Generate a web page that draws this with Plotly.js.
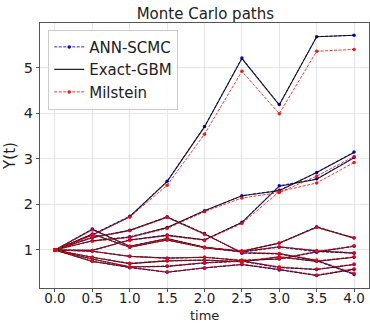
<!DOCTYPE html>
<html><head><meta charset="utf-8">
<script src="https://cdn.plot.ly/plotly-3.0.1.min.js"></script>
<style>html,body{margin:0;padding:0;background:#fff}#chart{width:370px;height:324px}</style>
</head><body><div id="chart"></div>
<script>
const times = [0, 0.5, 1.0, 1.5, 2.0, 2.5, 3.0, 3.5, 4.0];

// Exact-GBM paths
const exactPaths = [
  [1, 1.33, 1.73, 2.50, 3.70, 5.20, 4.18, 5.68, 5.71],
  [1, 1.20, 1.28, 1.49, 1.86, 2.19, 2.30, 2.70, 3.14],
  [1, 0.99, 1.22, 1.32, 1.22, 1.60, 2.40, 2.55, 3.02],
  [1, 1.27, 1.43, 1.72, 1.35, 0.94, 0.92, 0.77, 0.47],
  [1, 1.45, 1.08, 1.25, 1.06, 0.97, 1.15, 1.50, 1.26],
  [1, 1.35, 1.06, 1.22, 1.05, 0.96, 1.07, 0.98, 0.93],
  [1, 0.97, 0.86, 0.82, 0.84, 0.77, 0.80, 0.96, 1.08],
  [1, 0.84, 0.70, 0.76, 0.78, 0.74, 0.85, 0.75, 0.84],
  [1, 0.80, 0.63, 0.64, 0.72, 0.76, 0.62, 0.57, 0.68],
  [1, 0.75, 0.62, 0.51, 0.61, 0.68, 0.57, 0.44, 0.58]
];

// ANN-SCMC paths
const annPaths = [
  [1, 1.34, 1.74, 2.51, 3.71, 5.21, 4.19, 5.68, 5.71],
  [1, 1.20, 1.29, 1.49, 1.86, 2.19, 2.31, 2.70, 3.15],
  [1, 0.99, 1.22, 1.33, 1.22, 1.61, 2.41, 2.56, 3.03],
  [1, 1.28, 1.43, 1.73, 1.36, 0.93, 0.91, 0.76, 0.46],
  [1, 1.46, 1.08, 1.25, 1.06, 0.97, 1.15, 1.51, 1.26],
  [1, 1.35, 1.06, 1.22, 1.05, 0.95, 1.06, 0.96, 0.93],
  [1, 0.97, 0.86, 0.82, 0.84, 0.77, 0.80, 0.95, 1.08],
  [1, 0.84, 0.70, 0.76, 0.77, 0.74, 0.84, 0.75, 0.84],
  [1, 0.80, 0.62, 0.64, 0.71, 0.75, 0.61, 0.57, 0.68],
  [1, 0.75, 0.61, 0.51, 0.60, 0.68, 0.56, 0.44, 0.57]
];

// Milstein paths
const milPaths = [
  [1, 1.32, 1.72, 2.42, 3.54, 4.92, 3.99, 5.36, 5.40],
  [1, 1.19, 1.27, 1.47, 1.84, 2.14, 2.26, 2.62, 3.05],
  [1, 0.99, 1.21, 1.31, 1.21, 1.58, 2.28, 2.47, 2.92],
  [1, 1.27, 1.42, 1.71, 1.34, 0.95, 0.92, 0.78, 0.49],
  [1, 1.44, 1.08, 1.24, 1.06, 0.98, 1.15, 1.49, 1.27],
  [1, 1.34, 1.06, 1.22, 1.05, 0.97, 1.07, 0.99, 0.94],
  [1, 0.97, 0.86, 0.82, 0.84, 0.78, 0.81, 0.97, 1.09],
  [1, 0.84, 0.71, 0.77, 0.78, 0.75, 0.85, 0.76, 0.85],
  [1, 0.80, 0.63, 0.65, 0.72, 0.76, 0.63, 0.58, 0.69],
  [1, 0.75, 0.62, 0.52, 0.61, 0.69, 0.58, 0.45, 0.59]
];

const seriesNames = ['ANN-SCMC', 'Exact-GBM', 'Milstein'];

const traces = [];
annPaths.forEach((p, i) => traces.push({
  x: times, y: p, type: 'scatter', mode: 'lines+markers',
  name: seriesNames[0], legendgroup: 'ann', showlegend: i === 0,
  line: {color: 'rgba(0,0,255,0.85)', width: 1, dash: '3px,1.5px'},
  marker: {color: 'blue', size: 3.5}
}));
exactPaths.forEach((p, i) => traces.push({
  x: times, y: p, type: 'scatter', mode: 'lines',
  name: seriesNames[1], legendgroup: 'exact', showlegend: i === 0,
  line: {color: 'rgba(0,0,0,0.85)', width: 1.1}
}));
milPaths.forEach((p, i) => traces.push({
  x: times, y: p, type: 'scatter', mode: 'lines+markers',
  name: seriesNames[2], legendgroup: 'mil', showlegend: i === 0,
  line: {color: 'rgba(255,0,0,0.8)', width: 1, dash: '3px,1.5px'},
  marker: {color: 'rgba(255,0,0,0.9)', size: 3.5}
}));

const plotH = 324 - 23 - 36;

const layout = {
  width: 370, height: 324,
  margin: {l: 40, r: 1, t: 23, b: 36},
  paper_bgcolor: '#fff', plot_bgcolor: '#fff',
  font: {family: 'DejaVu Sans', color: '#222', size: 14},
  title: {text: 'Monte Carlo paths', font: {size: 15, family: 'DejaVu Sans'}, x: 0.555, xanchor: 'center', y: 0.975, yanchor: 'top'},
  xaxis: {
    range: [-0.2, 4.2], tickvals: times, ticktext: times.map(t => t.toFixed(1)),
    showgrid: true, gridcolor: '#e6e6e6', zeroline: false,
    showline: true, linecolor: '#555', mirror: true, linewidth: 1,
    ticks: 'outside', ticklen: 3, tickcolor: '#555',
    tickfont: {size: 13.5}, ticklabelstandoff: -5,
    title: {text: ''}
  },
  yaxis: {
    range: [0.165, 5.98], tickvals: [1, 2, 3, 4, 5],
    showgrid: true, gridcolor: '#e6e6e6', zeroline: false,
    showline: true, linecolor: '#555', mirror: true, linewidth: 1,
    ticks: 'outside', ticklen: 3, tickcolor: '#555',
    tickfont: {size: 14.5},
    title: {text: 'Y(t)', font: {size: 15}, standoff: 4}
  },
  annotations: [{
    text: 'time', xref: 'paper', yref: 'paper', x: 0.5, y: -36 / plotH,
    xanchor: 'center', yanchor: 'bottom', showarrow: false,
    font: {size: 13}, borderpad: 0
  }],
  legend: {
    x: 0.025, y: 0.975, xanchor: 'left', yanchor: 'top',
    bgcolor: 'rgba(255,255,255,0.85)', bordercolor: '#ccc', borderwidth: 1,
    font: {size: 15}, tracegroupgap: 0, itemwidth: 30
  },
  showlegend: true
};

Plotly.newPlot('chart', traces, layout, {displayModeBar: false, staticPlot: true});
</script></body></html>
